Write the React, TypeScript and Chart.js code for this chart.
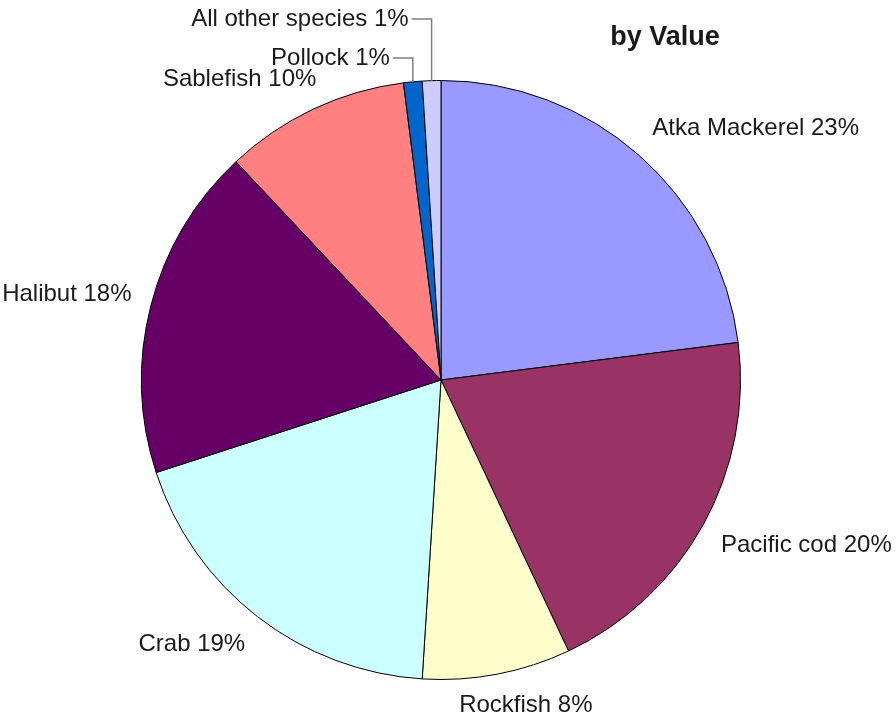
import { useEffect, useRef } from "react";
import { Chart, registerables } from "chart.js";

Chart.register(...registerables);

// Share of ex-vessel value by species group (percent)
const species = [
  "Atka Mackerel",
  "Pacific cod",
  "Rockfish",
  "Crab",
  "Halibut",
  "Sablefish",
  "Pollock",
  "All other species",
];
const valueShare = [23, 20, 8, 19, 18, 10, 1, 1];
const sliceColors = [
  "#9999FF",
  "#993366",
  "#FFFFCC",
  "#CCFFFF",
  "#660066",
  "#FF8080",
  "#0066CC",
  "#CCCCFF",
];
const chartTitle = "by Value";

const FONT_FAMILY = '"Liberation Sans", Arial, Helvetica, sans-serif';
const LABEL_SIZE = 24;
const LABEL_GAP = 20;
const TEXT_COLOR = "#1a1a1a";

const clamp = (v: number) => Math.max(-1, Math.min(1, v));

// Draws "Name NN%" outside each wedge; tiny wedges get a leader line
// and are stacked above the top of the pie.
const sliceLabels = {
  id: "sliceLabels",
  afterDatasetsDraw(chart: any) {
    const ctx: CanvasRenderingContext2D = chart.ctx;
    const meta = chart.getDatasetMeta(0);
    const data: number[] = chart.data.datasets[0].data;
    const total = data.reduce((a, b) => a + b, 0);
    const area = chart.chartArea;
    ctx.save();
    ctx.font = `${LABEL_SIZE}px ${FONT_FAMILY}`;
    ctx.fillStyle = TEXT_COLOR;
    ctx.textBaseline = "middle";
    let stack = 0;
    meta.data.forEach((arc: any, i: number) => {
      const { x, y, startAngle, endAngle, outerRadius } = arc.getProps(
        ["x", "y", "startAngle", "endAngle", "outerRadius"],
        true
      );
      const mid = (startAngle + endAngle) / 2;
      const dx = Math.cos(mid);
      const dy = Math.sin(mid);
      const share = data[i] / total;
      const text = `${chart.data.labels[i]} ${Math.round(share * 100)}%`;
      const w = ctx.measureText(text).width;
      if (share < 0.02) {
        const ex = x + dx * outerRadius;
        const ey = y + dy * outerRadius;
        const levelY = area.top - 22 - stack * 39;
        const legEnd = ex - 20;
        ctx.strokeStyle = "#7f7f7f";
        ctx.lineWidth = 1.5;
        ctx.beginPath();
        ctx.moveTo(ex, ey);
        ctx.lineTo(ex, levelY);
        ctx.lineTo(legEnd, levelY);
        ctx.stroke();
        ctx.textAlign = "right";
        ctx.fillText(text, legEnd - 3, levelY);
        stack++;
      } else {
        const r = outerRadius + LABEL_GAP;
        const px = x + dx * r;
        const py = y + dy * r;
        ctx.textAlign = "center";
        ctx.fillText(
          text,
          px + (w / 2) * clamp(dx * 2),
          py + (LABEL_SIZE / 2) * clamp(dy * 2)
        );
      }
    });

    // Heading in the upper right
    ctx.font = `bold 27px ${FONT_FAMILY}`;
    ctx.textAlign = "center";
    ctx.fillText(chartTitle, area.right - 76, area.top - 42);
    ctx.restore();
  },
};

export default function App() {
  const canvasRef = useRef<HTMLCanvasElement | null>(null);

  useEffect(() => {
    if (!canvasRef.current) return;
    const chart = new Chart(canvasRef.current, {
      type: "pie",
      data: {
        labels: species,
        datasets: [
          {
            data: valueShare,
            backgroundColor: sliceColors,
            borderColor: "#000000",
            borderWidth: 1,
          },
        ],
      },
      options: {
        animation: false,
        responsive: true,
        maintainAspectRatio: false,
        layout: { padding: { left: 141, right: 155, top: 80, bottom: 37 } },
        plugins: {
          legend: { display: false },
          tooltip: { enabled: false },
          title: { display: false },
        },
      },
      plugins: [sliceLabels],
    });
    return () => chart.destroy();
  }, []);

  return (
    <div
      style={{
        position: "absolute",
        left: 0,
        top: 0,
        width: 896,
        height: 717,
        background: "#ffffff",
      }}
    >
      <canvas ref={canvasRef} />
    </div>
  );
}
